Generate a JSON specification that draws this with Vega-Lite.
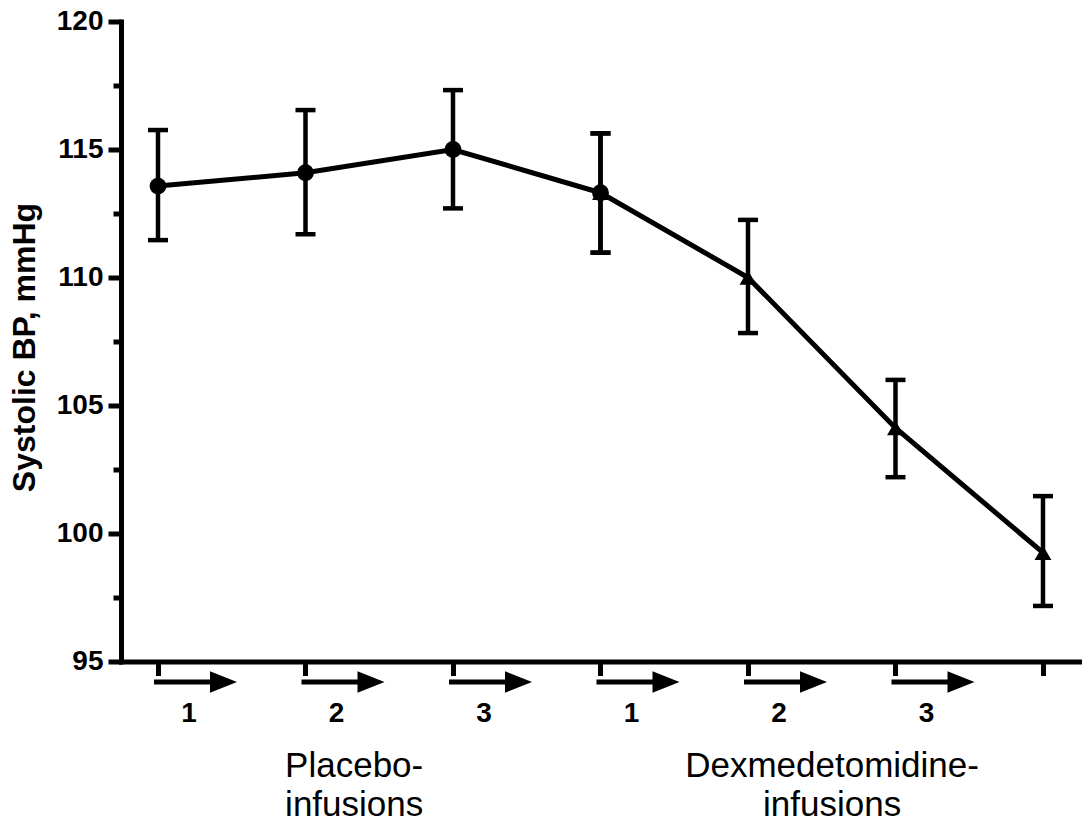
{
  "$schema": "https://vega.github.io/schema/vega-lite/v6.json",
  "width": 961,
  "height": 640,
  "autosize": {"type": "none"},
  "padding": {"left": 121, "top": 21.5, "right": 0, "bottom": 162.5},
  "background": "white",
  "config": {"view": {"stroke": null}, "font": "Liberation Sans"},
  "datasets": {
    "bp": [
      {"time": 1, "series": "Placebo", "mean": 113.57, "low": 111.46, "high": 115.76},
      {"time": 2, "series": "Placebo", "mean": 114.09, "low": 111.69, "high": 116.54},
      {"time": 3, "series": "Placebo", "mean": 115.0, "low": 112.7, "high": 117.32},
      {"time": 4, "series": "Placebo", "mean": 113.31, "low": 110.97, "high": 115.63},
      {"time": 4, "series": "Dexmedetomidine", "mean": 113.31, "low": 110.97, "high": 115.63},
      {"time": 5, "series": "Dexmedetomidine", "mean": 110.0, "low": 107.83, "high": 112.25},
      {"time": 6, "series": "Dexmedetomidine", "mean": 104.12, "low": 102.2, "high": 106.0},
      {"time": 7, "series": "Dexmedetomidine", "mean": 99.25, "low": 97.17, "high": 101.46}
    ],
    "steps": [
      {"time": 1, "step": "1"},
      {"time": 2, "step": "2"},
      {"time": 3, "step": "3"},
      {"time": 4, "step": "1"},
      {"time": 5, "step": "2"},
      {"time": 6, "step": "3"}
    ]
  },
  "layer": [
    {
      "data": {"name": "bp"},
      "mark": {"type": "rule", "color": "black", "strokeWidth": 4.5},
      "encoding": {
        "x": {
          "field": "time", "type": "quantitative",
          "scale": {"domain": [0.7492, 7.2645], "nice": false, "zero": false},
          "axis": {
            "values": [1, 2, 3, 4, 5, 6, 7], "labels": false, "tickSize": 14, "tickWidth": 5,
            "tickColor": "black", "domainColor": "black", "domainWidth": 5, "domainCap": "square",
            "grid": false, "title": null
          }
        },
        "y": {
          "field": "low", "type": "quantitative",
          "scale": {"domain": [95, 120], "nice": false, "zero": false},
          "title": "Systolic BP, mmHg",
          "axis": {
            "values": [95, 97.5, 100, 102.5, 105, 107.5, 110, 112.5, 115, 117.5, 120],
            "labelExpr": "datum.value % 5 === 0 ? datum.label : ''",
            "tickSize": {"condition": {"test": "datum.value % 5 === 0", "value": 13}, "value": 8},
            "tickWidth": 5, "tickColor": "black", "domainColor": "black", "domainWidth": 5, "domainCap": "square",
            "grid": false,
            "labelFont": "Liberation Sans", "labelFontSize": 28, "labelFontWeight": "bold", "labelColor": "black",
            "labelPadding": 5, "labelBaseline": "middle",
            "titleFont": "Liberation Sans", "titleFontSize": 32, "titleFontWeight": "bold", "titleColor": "black",
            "titleX": -97, "titleY": 325.5, "titleAngle": -90, "titleBaseline": "middle", "titleAlign": "center"
          }
        },
        "y2": {"field": "high"}
      }
    },
    {
      "data": {"name": "bp"},
      "mark": {"type": "tick", "orient": "horizontal", "color": "black", "size": 20, "thickness": 4.5, "opacity": 1},
      "encoding": {
        "x": {"field": "time", "type": "quantitative", "title": null},
        "y": {"field": "low", "type": "quantitative", "title": "Systolic BP, mmHg"}
      }
    },
    {
      "data": {"name": "bp"},
      "mark": {"type": "tick", "orient": "horizontal", "color": "black", "size": 20, "thickness": 4.5, "opacity": 1},
      "encoding": {
        "x": {"field": "time", "type": "quantitative", "title": null},
        "y": {"field": "high", "type": "quantitative", "title": "Systolic BP, mmHg"}
      }
    },
    {
      "data": {"name": "bp"},
      "mark": {"type": "line", "color": "black", "strokeWidth": 5},
      "encoding": {
        "x": {"field": "time", "type": "quantitative", "title": null},
        "y": {"field": "mean", "type": "quantitative", "title": "Systolic BP, mmHg"},
        "detail": {"field": "series"}
      }
    },
    {
      "data": {"name": "bp"},
      "mark": {"type": "point", "filled": true, "color": "black", "opacity": 1, "size": 285},
      "encoding": {
        "x": {"field": "time", "type": "quantitative", "title": null},
        "y": {"field": "mean", "type": "quantitative", "title": "Systolic BP, mmHg"},
        "shape": {
          "field": "series", "type": "nominal",
          "scale": {"domain": ["Placebo", "Dexmedetomidine"], "range": ["circle", "triangle-up"]},
          "legend": null
        }
      }
    },
    {
      "data": {"name": "steps"},
      "mark": {"type": "rule", "color": "black", "strokeWidth": 5, "xOffset": -4, "x2Offset": 54, "yOffset": 20.5},
      "encoding": {
        "x": {"field": "time", "type": "quantitative", "title": null},
        "x2": {"field": "time"},
        "y": {"datum": 95}
      }
    },
    {
      "data": {"name": "steps"},
      "mark": {"type": "point", "shape": "M-1,-0.8L1,0L-1,0.8Z", "filled": true, "color": "black", "opacity": 1, "size": 729, "xOffset": 65.5, "yOffset": 20.5},
      "encoding": {
        "x": {"field": "time", "type": "quantitative", "title": null},
        "y": {"datum": 95}
      }
    },
    {
      "data": {"name": "steps"},
      "mark": {"type": "text", "font": "Liberation Sans", "fontSize": 28, "fontWeight": "bold", "color": "black", "align": "center", "baseline": "alphabetic", "xOffset": 31, "yOffset": 60.5},
      "encoding": {
        "x": {"field": "time", "type": "quantitative", "title": null},
        "y": {"datum": 95},
        "text": {"field": "step"}
      }
    },
    {
      "data": {"values": [{"label": "Placebo-\ninfusions"}]},
      "mark": {"type": "text", "font": "Liberation Sans", "fontSize": 35, "color": "black", "align": "center", "baseline": "alphabetic", "lineBreak": "\n", "lineHeight": 39.5, "yOffset": 115},
      "encoding": {
        "x": {"datum": 2.33},
        "y": {"datum": 95},
        "text": {"field": "label"}
      }
    },
    {
      "data": {"values": [{"label": "Dexmedetomidine-\ninfusions"}]},
      "mark": {"type": "text", "font": "Liberation Sans", "fontSize": 35, "color": "black", "align": "center", "baseline": "alphabetic", "lineBreak": "\n", "lineHeight": 39.5, "yOffset": 115},
      "encoding": {
        "x": {"datum": 5.57},
        "y": {"datum": 95},
        "text": {"field": "label"}
      }
    }
  ]
}
